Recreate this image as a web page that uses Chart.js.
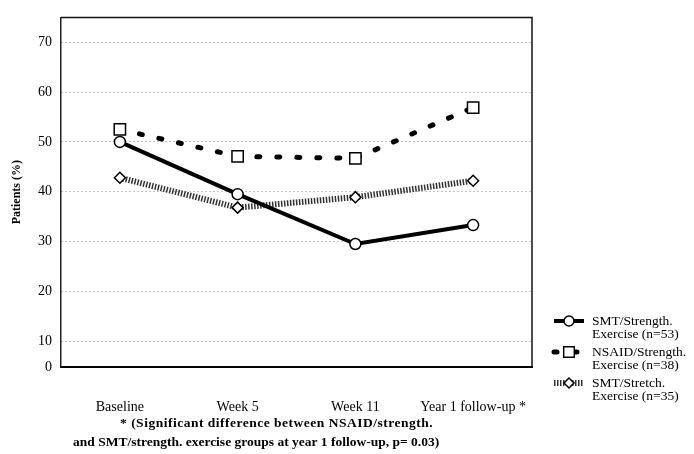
<!DOCTYPE html>
<html>
<head>
<meta charset="utf-8">
<script src="https://cdn.jsdelivr.net/npm/chart.js@4"></script>
<style>
  html, body { margin: 0; padding: 0; background: #fff; }
  #wrap { width: 694px; height: 454px; }
</style>
</head>
<body>
<div id="wrap"><canvas id="chart"></canvas></div>
<script>
// Data
const timepoints = ['Baseline', 'Week 5', 'Week 11', 'Year 1 follow-up *'];
const smtStrength = [50, 39.5, 29.5, 33.3];
const nsaidStrength = [52.5, 47.1, 46.7, 56.9];
const smtStretch = [42.8, 36.8, 38.9, 42.2];
const seriesNames = [
    ['SMT/Strength.', 'Exercise (n=53)'],
    ['NSAID/Strength.', 'Exercise (n=38)'],
    ['SMT/Stretch.', 'Exercise (n=35)']
];
const yTickValues = [0, 10, 20, 30, 40, 50, 60, 70];
const yAxisFloor = 4.8;   // the original axis is squeezed below 10, "0" sits at the floor
const yAxisTop = 75;
const footnote = [
    '* (Significant difference between NSAID/strength.',
    'and SMT/strength. exercise groups at year 1 follow-up, p= 0.03)'
];

const serif = '"Liberation Serif", "DejaVu Serif", serif';

// Top and right frame lines of the plot box
const framePlugin = {
    id: 'frame',
    beforeDatasetsDraw(chart) {
        const { ctx, chartArea: a } = chart;
        ctx.save();
        ctx.strokeStyle = '#111';
        ctx.lineWidth = 1.5;
        ctx.beginPath();
        ctx.moveTo(a.left, a.top);
        ctx.lineTo(a.right, a.top);
        ctx.lineTo(a.right, a.bottom);
        ctx.stroke();
        ctx.restore();
    }
};

function drawMarker(ctx, style, x, y, r) {
    ctx.beginPath();
    if (style === 'circle') {
        ctx.arc(x, y, r, 0, Math.PI * 2);
    } else if (style === 'rect') {
        const s = r * Math.SQRT1_2;
        ctx.rect(x - s, y - s, 2 * s, 2 * s);
    } else {
        ctx.moveTo(x, y - r);
        ctx.lineTo(x + r, y);
        ctx.lineTo(x, y + r);
        ctx.lineTo(x - r, y);
        ctx.closePath();
    }
    ctx.fillStyle = '#fff';
    ctx.fill();
    ctx.stroke();
}

// Legend to the lower right, plus the footnote under the axis
const notesPlugin = {
    id: 'notes',
    afterDraw(chart) {
        const { ctx, chartArea: a } = chart;
        ctx.save();
        ctx.font = '13.5px ' + serif;
        ctx.textBaseline = 'middle';
        const rowTop = [321, 352, 383];
        chart.data.datasets.forEach((ds, i) => {
            const y = rowTop[i];
            ctx.strokeStyle = ds.borderColor;
            ctx.lineWidth = ds.borderWidth;
            ctx.lineCap = ds.borderCapStyle || 'butt';
            ctx.setLineDash(ds.borderDash || []);
            ctx.beginPath();
            ctx.moveTo(a.right + 22, y);
            ctx.lineTo(a.right + 52, y);
            ctx.stroke();
            ctx.setLineDash([]);
            ctx.lineCap = 'butt';
            ctx.strokeStyle = '#000';
            ctx.lineWidth = ds.pointBorderWidth;
            drawMarker(ctx, ds.pointStyle, a.right + 37, y, ds.pointRadius - 0.5);
            ctx.fillStyle = '#000';
            ctx.textAlign = 'left';
            seriesNames[i].forEach((line, k) => {
                ctx.fillText(line, a.right + 60, y + k * 13.5);
            });
        });

        ctx.font = 'bold 13.5px ' + serif;
        ctx.textAlign = 'left';
        ctx.fillStyle = '#000';
        const footX = [a.left + 59, a.left + 12];
        const footSpacing = ['0.5px', '0px'];
        footnote.forEach((line, k) => {
            ctx.letterSpacing = footSpacing[k];
            ctx.fillText(line, footX[k], 424 + k * 19);
        });
        ctx.restore();
    }
};

new Chart(document.getElementById('chart'), {
    type: 'line',
    data: {
        labels: timepoints,
        datasets: [
            {
                label: seriesNames[0].join(' '),
                data: smtStrength,
                borderColor: '#000',
                borderWidth: 4,
                pointStyle: 'circle',
                pointRadius: 5.5,
                pointBorderWidth: 1.5,
                pointBackgroundColor: '#fff',
                pointBorderColor: '#000',
                tension: 0
            },
            {
                label: seriesNames[1].join(' '),
                data: nsaidStrength,
                borderColor: '#000',
                borderWidth: 5,
                borderDash: [3, 17],
                borderCapStyle: 'round',
                pointStyle: 'rect',
                pointRadius: 8,
                pointBorderWidth: 1.5,
                pointBackgroundColor: '#fff',
                pointBorderColor: '#000',
                tension: 0
            },
            {
                label: seriesNames[2].join(' '),
                data: smtStretch,
                borderColor: '#333',
                borderWidth: 6,
                borderDash: [1.5, 1.5],
                pointStyle: 'rectRot',
                pointRadius: 5.5,
                pointBorderWidth: 1.5,
                pointBackgroundColor: '#fff',
                pointBorderColor: '#000',
                tension: 0
            }
        ]
    },
    plugins: [framePlugin, notesPlugin],
    options: {
        responsive: true,
        maintainAspectRatio: false,
        animation: false,
        layout: { padding: { top: 12, right: 162, bottom: 37, left: 0 } },
        plugins: {
            legend: { display: false },
            tooltip: { enabled: false }
        },
        scales: {
            x: {
                offset: true,
                grid: { display: false, drawTicks: false },
                border: { display: true, color: '#000', width: 2 },
                ticks: {
                    color: '#000',
                    padding: 32,
                    maxRotation: 0,
                    autoSkip: false,
                    font: { family: serif, size: 14 }
                },
                afterFit(axis) { axis.height = 50; }
            },
            y: {
                min: yAxisFloor,
                max: yAxisTop,
                afterBuildTicks(axis) {
                    axis.ticks = yTickValues.map(v => ({ value: Math.max(v, yAxisFloor) }));
                },
                grid: {
                    color: '#888',
                    lineWidth: 1,
                    drawTicks: false
                },
                border: { display: true, color: '#222', width: 1.5, dash: [1, 3] },
                ticks: {
                    color: '#000',
                    padding: 9,
                    font: { family: serif, size: 14 },
                    callback: (value, index) => String(yTickValues[index])
                },
                title: {
                    display: true,
                    text: 'Patients (%)',
                    color: '#000',
                    padding: { top: 10, bottom: 0 },
                    font: { family: serif, size: 12, weight: 'bold' }
                },
                afterFit(axis) { axis.width = 61; }
            }
        }
    }
});
</script>
</body>
</html>
